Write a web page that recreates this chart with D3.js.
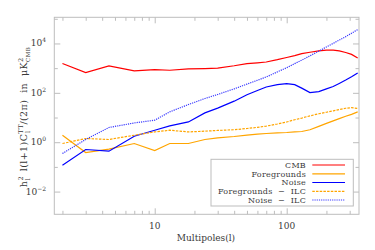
<!DOCTYPE html>
<html><head><meta charset="utf-8">
<script src="https://cdn.jsdelivr.net/npm/d3@7"></script>
<style>
html,body{margin:0;padding:0;background:#fff;}
svg{display:block;font-family:"DejaVu Serif",serif;}
text{white-space:pre;}
</style></head><body>
<svg id="c" width="375" height="250"></svg>
<script>
const ells = [2, 3, 4.5, 7, 10, 13, 18, 24, 30, 40, 50, 60, 70, 85, 100, 115, 130, 150, 175, 200, 225, 250, 280, 310, 345];
const cmb = [1540, 664, 1230, 770, 878, 822, 928, 960, 1000, 1250, 1530, 1650, 1780, 2200, 2700, 3200, 3850, 4400, 4970, 5400, 5400, 4970, 4300, 3600, 2590];
const foregrounds = [1.92, 0.383, 0.521, 0.886, 0.461, 0.886, 0.886, 1.29, 1.5, 1.7, 1.95, 2.11, 2.25, 2.4, 2.47, 2.6, 2.72, 3.2, 4.4, 5.8, 7.3, 9.0, 11.3, 13.5, 16.9];
const noise = [0.117, 0.506, 0.432, 1.75, 3.06, 4.57, 6.64, 15.4, 24, 46, 84, 124, 173, 215, 236, 215, 155, 103, 112, 145, 180, 240, 330, 448, 640];
const fgILC = [0.886, 1.41, 1.29, 1.92, 2.61, 3.06, 2.61, 2.8, 3.0, 3.2, 3.6, 4.0, 4.5, 5.46, 6.6, 8.16, 9.5, 11.7, 14.2, 16.4, 18.5, 20.9, 23.8, 25.2, 23.2];
const noiseILC = [0.349, 1.29, 3.94, 6.04, 7.78, 16.9, 33.6, 58.8, 86, 145, 226, 323, 440, 704, 1040, 1525, 2120, 3150, 4900, 7220, 10100, 13700, 18900, 26000, 36500];

const seriesNames = ["CMB", "Foregrounds", "Noise", "Foregrounds  \u2212  ILC", "Noise  \u2212  ILC"];
const seriesData = [cmb, foregrounds, noise, fgILC, noiseILC];
const seriesColors = ["#ff0000", "#ffa500", "#0000ff", "#ffa500", "#3a3aff"];
const seriesDash = [null, null, null, "2.5,1.2", "1.2,1"];

const xMajor = [10, 100];
const xMinor = [2,3,4,5,6,7,8,9,20,30,40,50,60,70,80,90,200,300];
const yMajorExp = [-2, 0, 2, 4];
const yMinorExp = [-1, 1, 3, 5];

const svg = d3.select("#c");
const L = 54.3, R = 359, T = 17.3, B = 214.3;
const x = d3.scaleLog().domain([1.735, 353]).range([L, R]);
const y = d3.scaleLog().domain([Math.pow(10, -2.92), Math.pow(10, 5.06)]).range([B, T]);
const axisColor = "#bdbdbd";
const textColor = "#3a3a3a";

svg.append("rect").attr("x", L).attr("y", T).attr("width", R - L).attr("height", B - T)
  .attr("fill", "none").attr("stroke", axisColor).attr("stroke-width", 1);

function styleAxis(g) {
  g.select(".domain").remove();
  g.selectAll(".tick line").attr("stroke", axisColor).attr("stroke-width", 1);
  g.selectAll(".tick text").remove();
}
svg.append("g").attr("transform", `translate(0,${B})`).call(d3.axisBottom(x).tickValues(xMajor).tickSize(-6)).call(styleAxis);
svg.append("g").attr("transform", `translate(0,${B})`).call(d3.axisBottom(x).tickValues(xMinor).tickSize(-3.5)).call(styleAxis);
svg.append("g").attr("transform", `translate(0,${T})`).call(d3.axisTop(x).tickValues(xMajor).tickSize(-6)).call(styleAxis);
svg.append("g").attr("transform", `translate(0,${T})`).call(d3.axisTop(x).tickValues(xMinor).tickSize(-3.5)).call(styleAxis);
const yMaj = yMajorExp.map(e => Math.pow(10, e));
const yMin = yMinorExp.map(e => Math.pow(10, e));
svg.append("g").attr("transform", `translate(${L},0)`).call(d3.axisLeft(y).tickValues(yMaj).tickSize(-6)).call(styleAxis);
svg.append("g").attr("transform", `translate(${L},0)`).call(d3.axisLeft(y).tickValues(yMin).tickSize(-3.5)).call(styleAxis);
svg.append("g").attr("transform", `translate(${R},0)`).call(d3.axisRight(y).tickValues(yMaj).tickSize(-6)).call(styleAxis);
svg.append("g").attr("transform", `translate(${R},0)`).call(d3.axisRight(y).tickValues(yMin).tickSize(-3.5)).call(styleAxis);

svg.append("g").selectAll("text").data(xMajor).join("text")
  .attr("x", d => x(d)).attr("y", 229).attr("text-anchor", "middle")
  .attr("font-size", 9).attr("fill", textColor).text(d => d);
const yl = svg.append("g").selectAll("text").data(yMajorExp).join("text")
  .attr("x", 46).attr("y", d => y(Math.pow(10, d)) + 3).attr("text-anchor", "end")
  .attr("font-size", 9).attr("fill", textColor);
yl.append("tspan").text("10");
yl.append("tspan").attr("dy", -4).attr("font-size", 6).text(d => d < 0 ? "\u2212" + (-d) : d);

svg.append("text").attr("x", 206).attr("y", 241).attr("text-anchor", "middle")
  .attr("font-size", 9).attr("fill", textColor).text("Multipoles(l)");

const yt = svg.append("text").attr("transform", "translate(27,117) rotate(-90)")
  .attr("text-anchor", "middle").attr("font-size", 9.5).attr("fill", textColor)
  .attr("letter-spacing", 0.4);
yt.append("tspan").text("h");
yt.append("tspan").attr("dy", -4).attr("font-size", 6.5).text("2");
yt.append("tspan").attr("dx", -4.5).attr("dy", 7).attr("font-size", 6.5).text("l");
yt.append("tspan").attr("dy", -3).text("  l(l+1)C");
yt.append("tspan").attr("dy", -4).attr("font-size", 6.5).text("TT");
yt.append("tspan").attr("dx", -9).attr("dy", 7).attr("font-size", 6.5).text("l");
yt.append("tspan").attr("dx", 6).attr("dy", -3).text("/(2\u03c0)  in  \u03bcK");
yt.append("tspan").attr("dy", -4).attr("font-size", 6.5).text("2");
yt.append("tspan").attr("dx", -4.5).attr("dy", 7).attr("font-size", 5.5).text("CMB");

const line = d3.line().x((d, i) => x(ells[i])).y(d => y(d));
svg.append("clipPath").attr("id", "pc").append("rect")
  .attr("x", L).attr("y", T).attr("width", R - L).attr("height", B - T);
const lg = svg.append("g").attr("clip-path", "url(#pc)");
seriesData.forEach((s, k) => {
  lg.append("path").datum(s).attr("d", line).attr("fill", "none")
    .attr("stroke", seriesColors[k]).attr("stroke-width", 1.2)
    .attr("stroke-dasharray", seriesDash[k]);
});

const lgX = 211, lgY = 159.3, lgW = 142.3, lgH = 46.7;
svg.append("rect").attr("x", lgX).attr("y", lgY).attr("width", lgW).attr("height", lgH)
  .attr("fill", "#fff").attr("stroke", axisColor).attr("stroke-width", 1);
const rowY = [165, 173.8, 182.5, 191.3, 200];
seriesNames.forEach((n, k) => {
  svg.append("text").attr("x", 306).attr("y", rowY[k] + 2.8).attr("text-anchor", "end")
    .attr("font-size", 8).attr("fill", textColor).attr("letter-spacing", 0.25).text(n);
  svg.append("line").attr("x1", 312.3).attr("x2", 345).attr("y1", rowY[k]).attr("y2", rowY[k])
    .attr("stroke", seriesColors[k]).attr("stroke-width", 1.2).attr("stroke-dasharray", seriesDash[k]);
});
</script></body></html>
